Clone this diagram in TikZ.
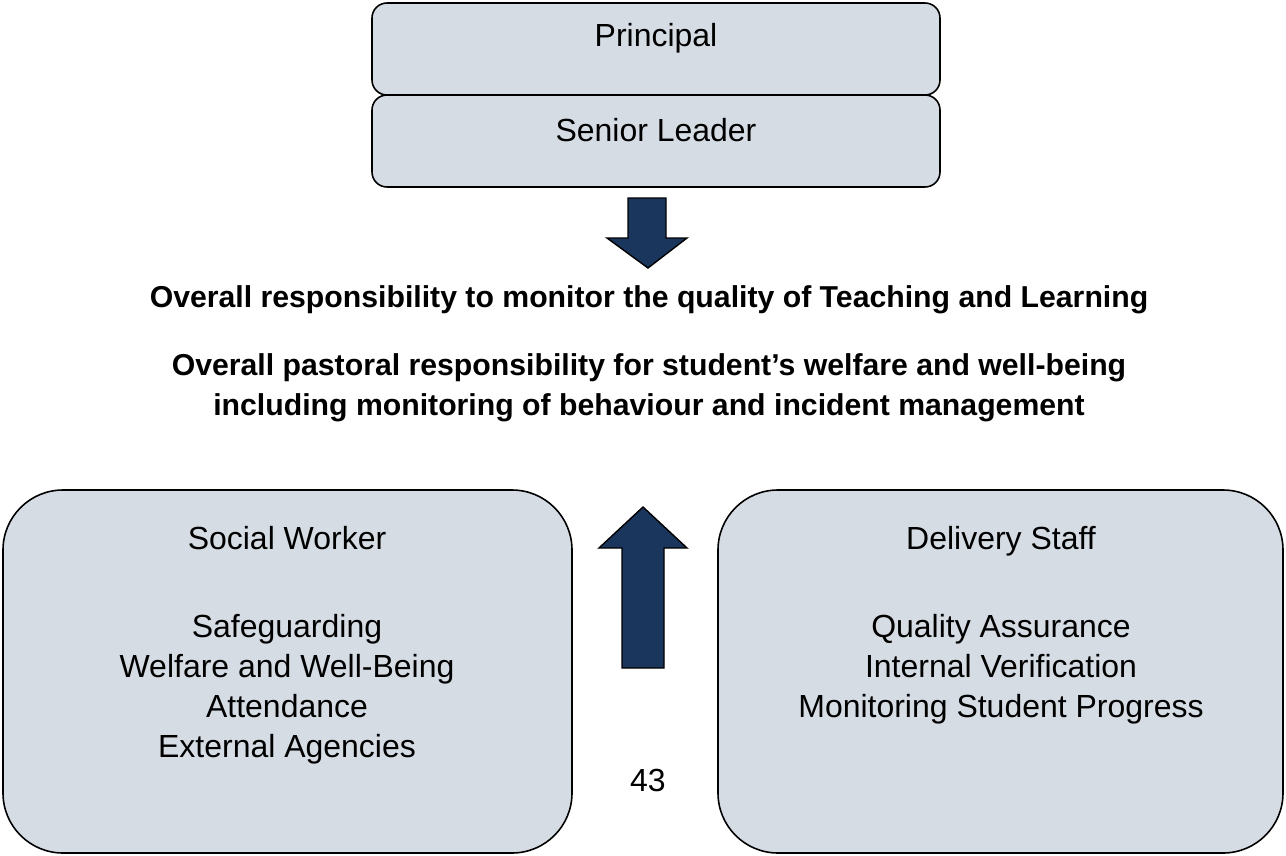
\documentclass[tikz,border=0pt]{standalone}
\usepackage{fontspec}
\setmainfont{Liberation Sans}
\usepackage{tikz}
\usetikzlibrary{positioning}

\definecolor{boxfill}{RGB}{213,220,228}
\definecolor{navy}{RGB}{27,54,93}

\tikzset{
  roundbox/.style={draw=black, line width=0.9pt, fill=boxfill},
  blockarrow/.style={draw=black, line width=0.8pt, fill=navy},
  txt/.style={inner sep=0pt, font=\fontsize{18.2}{22.7}\selectfont, align=center},
  boldtxt/.style={txt, font=\fontsize{17.2}{22.7}\selectfont\bfseries}
}

\begin{document}
\begin{tikzpicture}[x=0.02cm, y=-0.02cm]
      \useasboundingbox (0,0) rectangle (1286,856);

      % top boxes
      \draw[roundbox, rounded corners=0.3cm] (372, 3) rectangle (940, 95);
      \draw[roundbox, rounded corners=0.3cm] (372, 95) rectangle (940, 187);
      \node[txt] (principal) at (656, 38) {Principal};
      \node[txt] (senior) at (656, 130) {Senior Leader};

      % down arrow
      \draw[blockarrow] (628, 198) -- (666, 198) -- (666, 238) -- (687, 238)
        -- (648, 268) -- (607, 238) -- (628, 238) -- cycle;

      % responsibilities
      \node[boldtxt] (quality) at (649, 300)
        {Overall responsibility to monitor the quality of Teaching and Learning};
      \node[boldtxt] (pastoral) at (649, 388)
        {Overall pastoral responsibility for student’s welfare and well-being\\
         including monitoring of behaviour and incident management};

      % bottom boxes
      \draw[roundbox, rounded corners=1.2cm] (3, 490) rectangle (572, 853);
      \draw[roundbox, rounded corners=1.2cm] (718, 490) rectangle (1283, 853);

      \node[txt, anchor=base] (social) at (287, 549) {Social Worker};
      \node[txt] (sociallist) at (287, 689)
        {Safeguarding\\ Welfare and Well-Being\\ Attendance\\ External Agencies};

      \node[txt, anchor=base] (delivery) at (1001, 549) {Delivery Staff};
      \node[txt] (deliverylist) at (1001, 669)
        {Quality Assurance\\ Internal Verification\\ Monitoring Student Progress};

      % up arrow
      \draw[blockarrow] (622, 668) -- (664, 668) -- (664, 548) -- (687, 548)
        -- (643, 507) -- (599, 548) -- (622, 548) -- cycle;

      \node[txt] (page) at (648, 780) {43};
\end{tikzpicture}
\end{document}
